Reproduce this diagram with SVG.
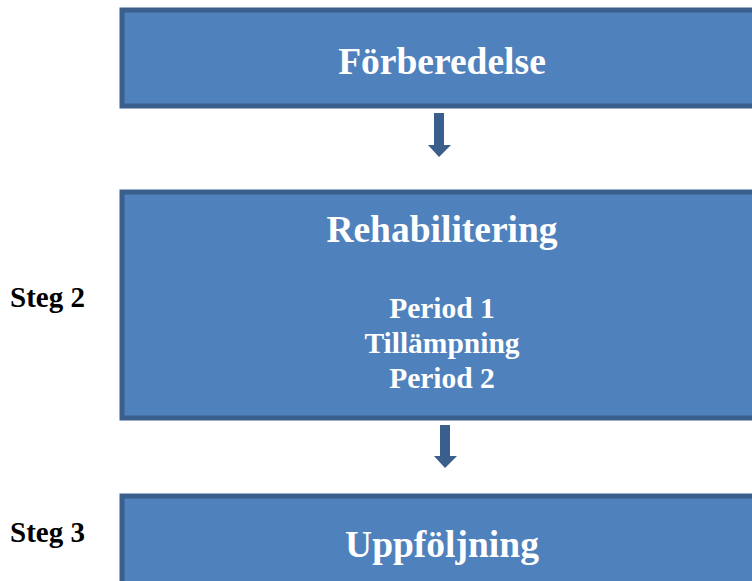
<svg xmlns="http://www.w3.org/2000/svg" width="752" height="581" viewBox="0 0 752 581">
<style>
.box{fill:#4f81bd;stroke:#3a5f8c;stroke-width:5}
.t{font-family:"Liberation Serif","Times New Roman",serif;font-weight:bold;fill:#ffffff;text-anchor:middle}
.big{font-size:37.5px}
.mid{font-size:29.5px}
.lbl{font-family:"Liberation Serif","Times New Roman",serif;font-weight:bold;fill:#000000;font-size:29px}
.arr{fill:#3a5f8c}
</style>
<rect width="752" height="581" fill="#ffffff"/>
<g id="node-forberedelse">
<rect class="box" x="122" y="10" width="660" height="96"/>
<text class="t big" x="442" y="74">Förberedelse</text>
</g>
<g id="node-rehabilitering">
<rect class="box" x="122" y="192" width="660" height="226"/>
<text class="t big" x="442" y="242">Rehabilitering</text>
<text class="t mid" x="442" y="318">Period 1</text>
<text class="t mid" x="442" y="353">Tillämpning</text>
<text class="t mid" x="442" y="388">Period 2</text>
</g>
<g id="node-uppfoljning">
<rect class="box" x="122" y="496" width="660" height="110"/>
<text class="t big" x="442" y="557">Uppföljning</text>
</g>
<g id="label-steg2"><text class="lbl" x="10" y="307">Steg 2</text></g>
<g id="label-steg3"><text class="lbl" x="10" y="542">Steg 3</text></g>
<g id="connectors">
<path class="arr" d="M434,113 H444 V145 H451 L439,157 L428,145 H434 Z"/>
<path class="arr" d="M440,425 H450 V456 H457 L445,468 L434,456 H440 Z"/>
</g>
</svg>
